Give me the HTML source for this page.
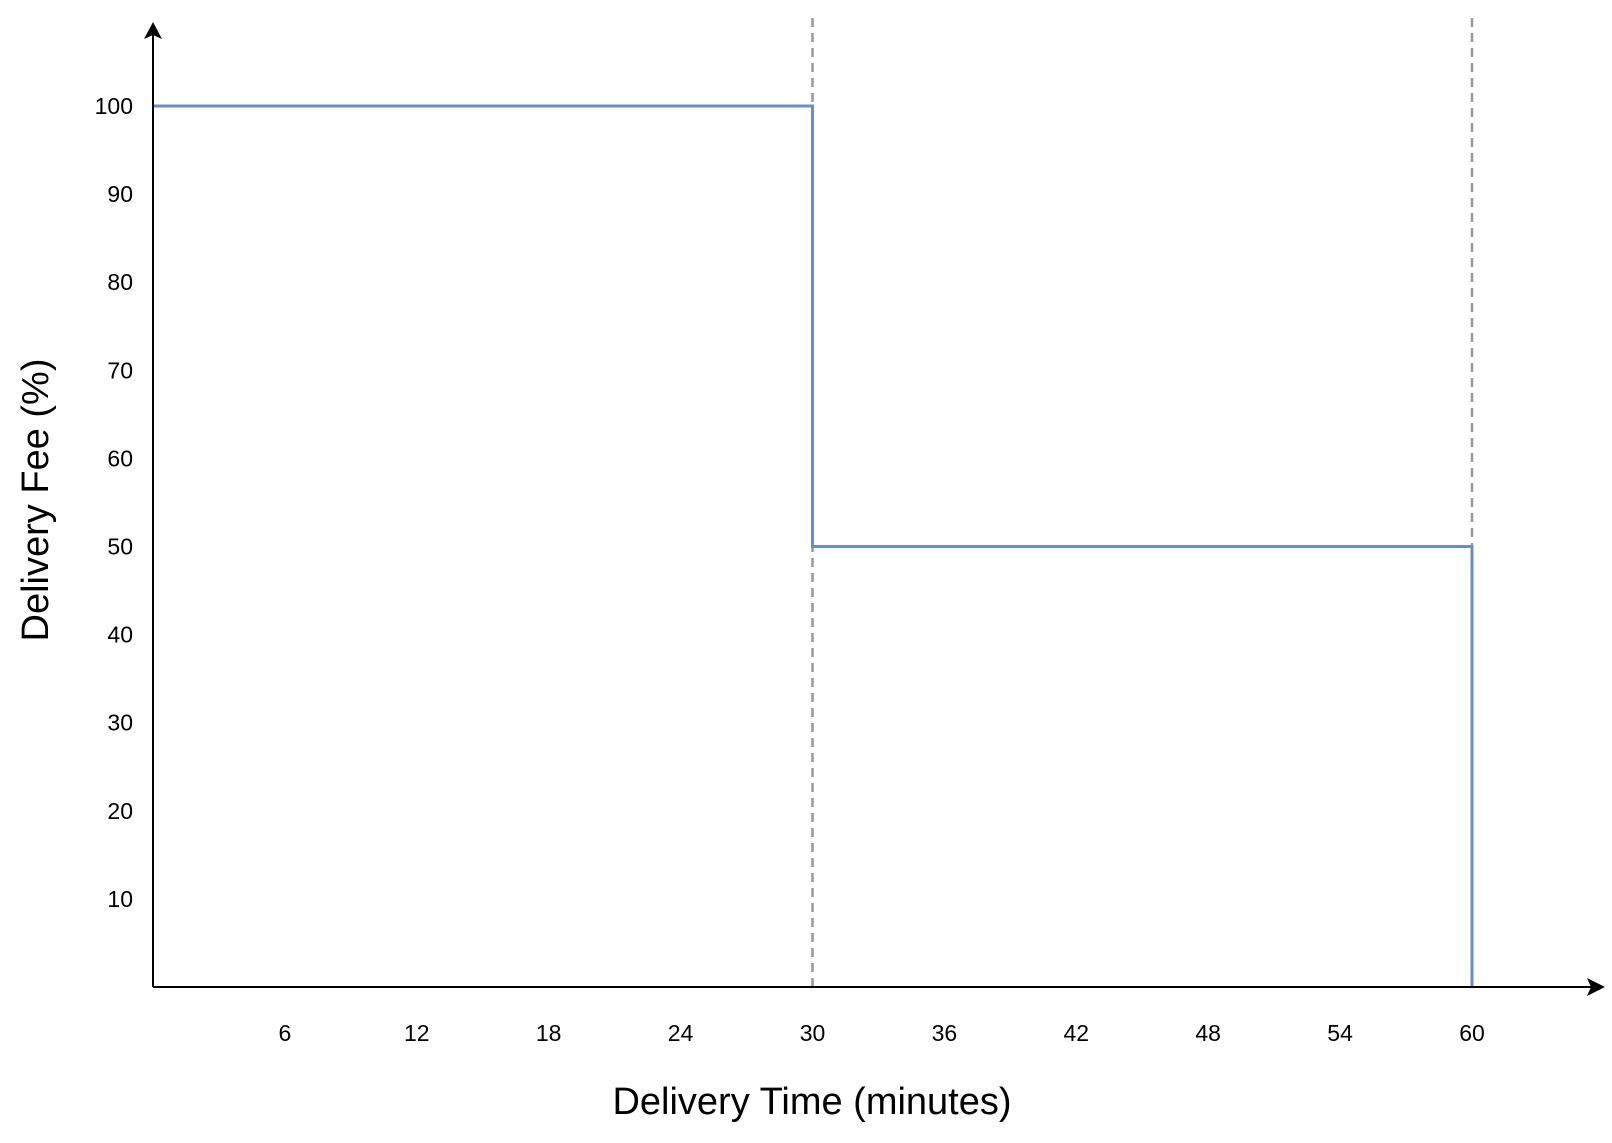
<!DOCTYPE html>
<html><head><meta charset="utf-8"><style>
html,body{margin:0;padding:0;background:#fff}
svg{display:block;font-family:"Liberation Sans",Arial,sans-serif}
</style></head><body>
<svg id="chart" width="1612" height="1143" viewBox="0 0 1612 1143" xmlns="http://www.w3.org/2000/svg"></svg>
<script>
const xTicks=[6,12,18,24,30,36,42,48,54,60];
const yTicks=[10,20,30,40,50,60,70,80,90,100];
const stepX=[0,30,30,60,60];
const stepY=[100,100,50,50,0];
const thresholds=[30,60];
const X0=153,XPER=659.5/30,Y0=987,YPER=8.81;
const sx=v=>X0+v*XPER, sy=v=>Y0-v*YPER;
const svg=document.getElementById('chart');
const NS='http://www.w3.org/2000/svg';
function mk(t,a,p){const e=document.createElementNS(NS,t);for(const k in a)e.setAttribute(k,a[k]);(p||svg).appendChild(e);return e;}
thresholds.forEach(t=>{
 const l=mk('line',{x1:sx(t),x2:sx(t),y1:18,y2:Y0,stroke:'#999',"stroke-width":2.5,"stroke-dasharray":"9 6"});
 
 
});
let d='';stepX.forEach((x,i)=>{d+=(i?'L':'M')+sx(x)+' '+sy(stepY[i])+' ';});
const p=mk('path',{d:d,fill:'none',stroke:'#6c8ebf',"stroke-width":3});


const ya=mk('line',{x1:X0,x2:X0,y1:Y0,y2:35,stroke:'#000',"stroke-width":2});


const yh=mk('path',{d:`M${X0} 22 L${X0-9} 39 L${X0} 35 L${X0+9} 39 Z`,fill:'#000'});


const xa=mk('line',{x1:X0,x2:1592,y1:Y0,y2:Y0,stroke:'#000',"stroke-width":2});


const xh=mk('path',{d:`M1605 ${Y0} L1587 ${Y0-9} L1591 ${Y0} L1587 ${Y0+9} Z`,fill:'#000'});


xTicks.forEach(v=>{
 const t=mk('text',{x:sx(v),y:1041,"text-anchor":"middle","font-size":23,fill:'#000'});t.textContent=v;
 
 
});
yTicks.forEach(v=>{
 const t=mk('text',{x:133,y:sy(v)+8,"text-anchor":"end","font-size":23,fill:'#000'});t.textContent=v;
 
 
});
const xt=mk('text',{x:812,y:1114,"text-anchor":"middle","font-size":38,fill:'#000'});xt.textContent='Delivery Time (minutes)';


const yt=mk('text',{x:0,y:0,"text-anchor":"middle","font-size":38,fill:'#000',transform:'translate(48,500) rotate(-90)'});yt.textContent='Delivery Fee (%)';


</script>
</body></html>
